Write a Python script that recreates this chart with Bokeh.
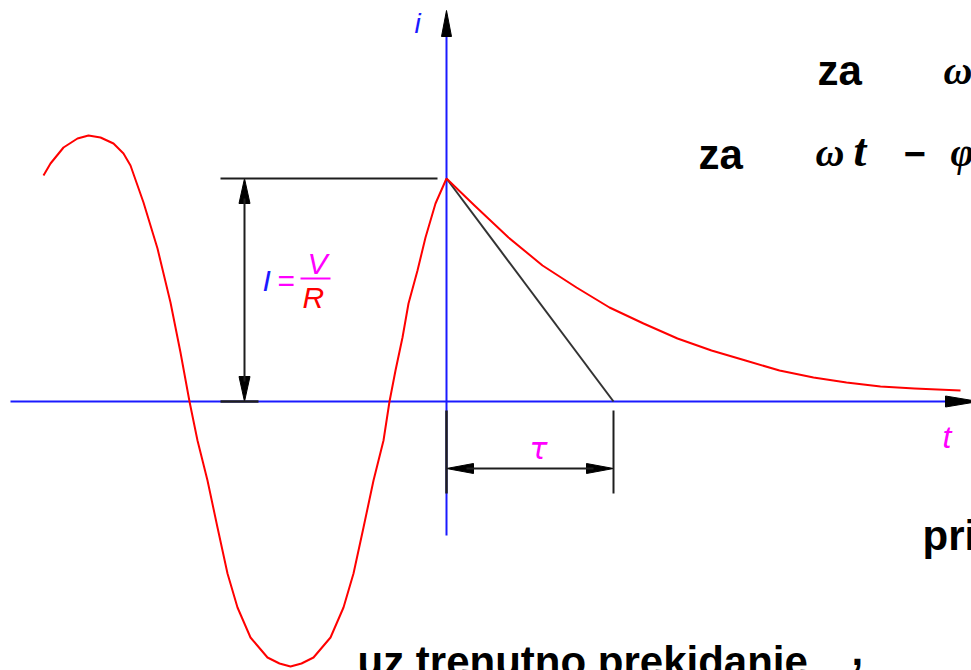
import numpy as np
from bokeh.plotting import figure
from bokeh.models import Range1d, Label
from bokeh.embed import file_html
from bokeh.resources import INLINE

# Current i(t) in drawing units; t = 0 is the instant of interruption.
# AC part before the interruption
t_ac = [-403, -396, -383, -369, -358, -346, -333, -323, -316, -303, -289, -276, -266,
        -257, -249, -239, -229, -219, -209, -196, -179, -167, -156, -145, -133, -116,
        -103, -93, -83, -73, -63, -57, -51, -44, -38, -29, -21, -11, 0]
i_ac = [226, 238, 254, 263, 266, 264, 258, 248, 236, 199, 153, 99, 49,
        0, -39, -79, -126, -172, -206, -236, -256, -262, -265, -262, -256, -236,
        -206, -172, -126, -79, -39, 0, 31, 64, 98, 131, 164, 198, 223]
# Decaying current after the interruption
t_decay = [0, 28, 62, 96, 130, 163, 197, 231, 265, 299, 333, 367, 400, 434, 468, 514]
i_decay = [223, 196, 164, 136, 114, 94, 78, 63, 51, 41, 31, 24, 19, 15, 13, 11]

I_level = 223      # I = V/R
tau = 167          # time constant

RED = "#ff0000"
BLUE = "#1a1aff"
MAGENTA = "#ff00ff"
DARK = "#1e1e1e"

p = figure(width=971, height=670,
           x_range=Range1d(-446, 525), y_range=Range1d(-269, 401),
           output_backend="svg", toolbar_location=None,
           x_axis_type=None, y_axis_type=None, min_border=0)
p.outline_line_color = None
p.background_fill_color = "white"
p.border_fill_color = "white"


def head(tx, ty, dx, dy, length, width):
    """Triangle arrowhead with tip at (tx, ty) pointing along (dx, dy)."""
    n = np.hypot(dx, dy)
    ux, uy = dx / n, dy / n
    bx, by = tx - ux * length, ty - uy * length
    px, py = -uy * width / 2, ux * width / 2
    return [tx, bx + px, bx - px], [ty, by + py, by - py]


# axes
p.line([-436, 500], [0, 0], line_color=BLUE, line_width=2)
p.line([0, 0], [-134, 368], line_color=BLUE, line_width=2)

heads_x, heads_y = [], []
for args in [
    (532, 0, 1, 0, 33, 11),             # t axis
    (0, 391, 0, 1, 26, 10),             # i axis
    (-202, I_level, 0, 1, 25, 11),      # I dimension, top
    (-202, 0, 0, -1, 25, 11),           # I dimension, bottom
    (0, -67, -1, 0, 27, 10),            # tau dimension, left
    (tau, -67, 1, 0, 27, 10),           # tau dimension, right
]:
    hx, hy = head(*args)
    heads_x.append(hx)
    heads_y.append(hy)
p.patches(heads_x, heads_y, fill_color="black", line_color="black", line_width=1)

# dimension lines for I
p.line([-226, -9], [I_level, I_level], line_color=DARK, line_width=2)
p.line([-226, -188], [0, 0], line_color=DARK, line_width=2.5)
p.line([-202, -202], [20, I_level - 20], line_color=DARK, line_width=2)

# dimension lines for tau
p.line([0, 0], [-9, -92], line_color=DARK, line_width=2.5)
p.line([tau, tau], [-9, -92], line_color=DARK, line_width=2)
p.line([20, tau - 20], [-67, -67], line_color=DARK, line_width=2)

# initial tangent of the decay
p.line([0, tau], [I_level, 0], line_color="#333333", line_width=2)

# current
p.line(t_ac, i_ac, line_color=RED, line_width=2, line_join="round")
p.line(t_decay, i_decay, line_color=RED, line_width=2, line_join="round")

# fraction bar of V/R
p.line([-146, -116], [123, 123], line_color=MAGENTA, line_width=2)


def label(x, y, text, color="black", font="Liberation Sans", size=42, style="bold"):
    # y is the visual baseline; labels sit about a third of an em low otherwise
    p.add_layout(Label(x=x, y=y + 0.32 * size, text=text, text_color=color,
                       text_font=font, text_font_size=f"{size}px",
                       text_font_style=style, text_align="left",
                       text_baseline="alphabetic"))


# axis names and quantities
label(-32, 369, "i", BLUE, "Liberation Sans", 28, "italic")
label(496, -46, "t", MAGENTA, "Liberation Sans", 32, "italic")
label(83, -57, "τ", MAGENTA, "DejaVu Sans", 30, "italic")
label(-184, 111, "I", BLUE, "Liberation Sans", 30, "italic")
label(-169, 111, "=", MAGENTA, "Liberation Sans", 30, "normal")
label(-139, 128, "V", MAGENTA, "Liberation Sans", 30, "italic")
label(-144, 94, "R", RED, "Liberation Sans", 30, "italic")

# conditions text
label(371, 318, "za")
label(497, 318, "ω", font="Liberation Serif", size=40, style="bold italic")
label(252, 234, "za")
label(369, 236, "ω", font="Liberation Serif", size=40, style="bold italic")
label(407, 236, "t", font="Liberation Serif", size=46, style="bold italic")
label(457, 236, "−", font="Liberation Sans", size=38, style="bold")
label(504, 236, "φ", font="Liberation Serif", size=40, style="bold italic")
label(476, -147, "pri")
label(-89, -273, "uz trenutno prekidanje")
label(405, -262, ",")

open("out.html", "w").write(file_html(p, INLINE))
